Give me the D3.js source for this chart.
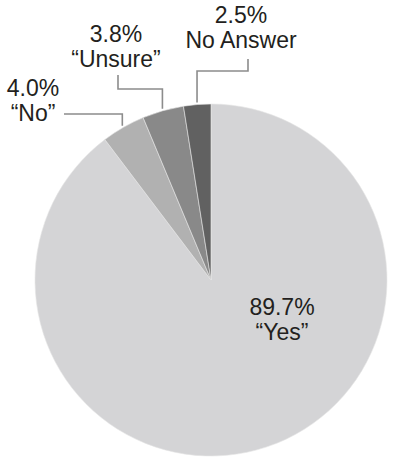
<!doctype html>
<html>
<head>
<meta charset="utf-8">
<title>Survey responses</title>
<style>
  html, body { margin: 0; padding: 0; background: #fff; }
  text { font-family: "Liberation Sans", Arial, Helvetica, sans-serif; fill: #231f20; }
</style>
</head>
<body>
<div id="chart"></div>
<script src="https://d3js.org/d3.v7.min.js"></script>
<script>
// data
var categories = ["Yes", "No", "Unsure", "No Answer"];
var names = ["\u201cYes\u201d", "\u201cNo\u201d", "\u201cUnsure\u201d", "No Answer"];
var values = [89.7, 4.0, 3.8, 2.5];

var colours = ["#d4d4d6", "#b1b1b1", "#898989", "#616161"];

var w = 396, h = 459;
var cx = 211, cy = 280, r = 176;

// where each label sits (centre x, first baseline) and where its leader starts
var labelPos = {
  "Yes":       { x: 282, y: 315 },
  "No":        { x: 33,  y: 96,  line: [64, 114], elbow: 114 },
  "Unsure":    { x: 116, y: 42,  line: [118, 75], elbow: 89 },
  "No Answer": { x: 241, y: 23,  line: [248, 59], elbow: 71 }
};

var data = categories.map(function(c, i) {
  return { cat: c, name: names[i], value: values[i], colour: colours[i] };
});

var svg = d3.select("#chart").append("svg")
    .attr("width", w).attr("height", h);

var g = svg.append("g").attr("transform", "translate(" + cx + "," + cy + ")");

var pie = d3.pie().sort(null).value(function(d) { return d.value; });
var arc = d3.arc().innerRadius(0).outerRadius(r);
var arcs = pie(data);

g.selectAll("path.slice").data(arcs).enter().append("path")
    .attr("class", "slice")
    .attr("d", arc)
    .attr("fill", function(d) { return d.data.colour; })
    .attr("stroke", "#e6e6e6")
    .attr("stroke-width", 0.6);

// leader lines for the small slices
var line = d3.line();
arcs.forEach(function(d) {
  var p = labelPos[d.data.cat];
  if (!p.line) return;
  var mid = (d.startAngle + d.endAngle) / 2;
  var ex = cx + (r + 2) * Math.sin(mid);
  var ey = cy - (r + 2) * Math.cos(mid);
  var pts = [p.line, [p.line[0], p.elbow], [ex, p.elbow], [ex, ey]];
  svg.append("path")
      .attr("d", line(pts))
      .attr("fill", "none")
      .attr("stroke", "#8c8c8c")
      .attr("stroke-width", 1.6);
});

// labels
arcs.forEach(function(d) {
  var p = labelPos[d.data.cat];
  var t = svg.append("text")
      .attr("text-anchor", "middle")
      .attr("font-size", 23);
  t.append("tspan").attr("x", p.x).attr("y", p.y)
      .text(d.data.value.toFixed(1) + "%");
  t.append("tspan").attr("x", p.x).attr("y", p.y + 25)
      .text(d.data.name);
});
</script>
</body>
</html>
